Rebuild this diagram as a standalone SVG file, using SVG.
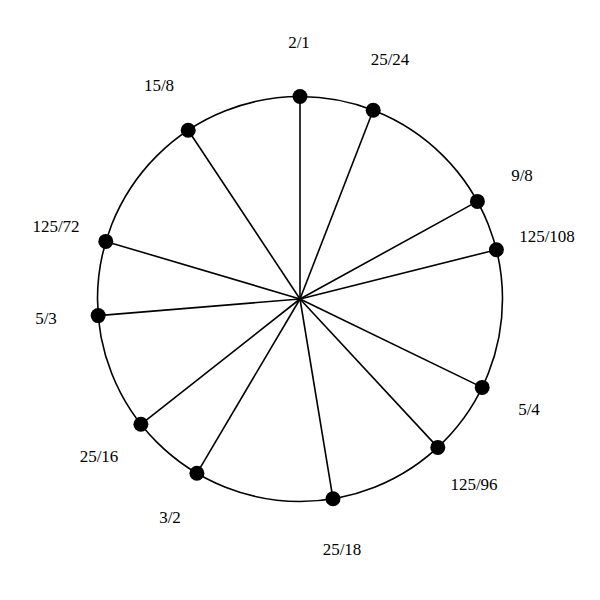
<svg xmlns="http://www.w3.org/2000/svg" width="600" height="600" viewBox="0 0 600 600">
<style>
.ring{fill:none;stroke:#000;stroke-width:1.6}
.spoke{stroke:#000;stroke-width:1.6}
.dot{fill:#000}
.lbl{font-family:"Liberation Serif","Times New Roman",serif;font-size:17px;fill:#000;text-anchor:middle}
</style>
<rect width="600" height="600" fill="#fff"/>
<circle class="ring" cx="300" cy="299" r="202.5"/>
<g id="connectors">
<line class="spoke" x1="300" y1="299" x2="300" y2="96.5"/>
<line class="spoke" x1="300" y1="299" x2="373.2" y2="110.2"/>
<line class="spoke" x1="300" y1="299" x2="477.4" y2="201.4"/>
<line class="spoke" x1="300" y1="299" x2="496.4" y2="249.7"/>
<line class="spoke" x1="300" y1="299" x2="482.2" y2="387.4"/>
<line class="spoke" x1="300" y1="299" x2="437.8" y2="447.4"/>
<line class="spoke" x1="300" y1="299" x2="333.0" y2="498.8"/>
<line class="spoke" x1="300" y1="299" x2="196.9" y2="473.3"/>
<line class="spoke" x1="300" y1="299" x2="140.9" y2="424.3"/>
<line class="spoke" x1="300" y1="299" x2="98.2" y2="315.6"/>
<line class="spoke" x1="300" y1="299" x2="105.8" y2="241.4"/>
<line class="spoke" x1="300" y1="299" x2="188.2" y2="130.2"/>
</g>
<g id="n-2-1"><circle class="dot" cx="300" cy="96.5" r="7.5"/><text class="lbl" x="299" y="48">2/1</text></g>
<g id="n-25-24"><circle class="dot" cx="373.2" cy="110.2" r="7.5"/><text class="lbl" x="390" y="65">25/24</text></g>
<g id="n-9-8"><circle class="dot" cx="477.4" cy="201.4" r="7.5"/><text class="lbl" x="522" y="181">9/8</text></g>
<g id="n-125-108"><circle class="dot" cx="496.4" cy="249.7" r="7.5"/><text class="lbl" x="547" y="242">125/108</text></g>
<g id="n-5-4"><circle class="dot" cx="482.2" cy="387.4" r="7.5"/><text class="lbl" x="529" y="415">5/4</text></g>
<g id="n-125-96"><circle class="dot" cx="437.8" cy="447.4" r="7.5"/><text class="lbl" x="474" y="490">125/96</text></g>
<g id="n-25-18"><circle class="dot" cx="333.0" cy="498.8" r="7.5"/><text class="lbl" x="342" y="555">25/18</text></g>
<g id="n-3-2"><circle class="dot" cx="196.9" cy="473.3" r="7.5"/><text class="lbl" x="170" y="523">3/2</text></g>
<g id="n-25-16"><circle class="dot" cx="140.9" cy="424.3" r="7.5"/><text class="lbl" x="99" y="462">25/16</text></g>
<g id="n-5-3"><circle class="dot" cx="98.2" cy="315.6" r="7.5"/><text class="lbl" x="46" y="324">5/3</text></g>
<g id="n-125-72"><circle class="dot" cx="105.8" cy="241.4" r="7.5"/><text class="lbl" x="56" y="232">125/72</text></g>
<g id="n-15-8"><circle class="dot" cx="188.2" cy="130.2" r="7.5"/><text class="lbl" x="159" y="91">15/8</text></g>
</svg>
